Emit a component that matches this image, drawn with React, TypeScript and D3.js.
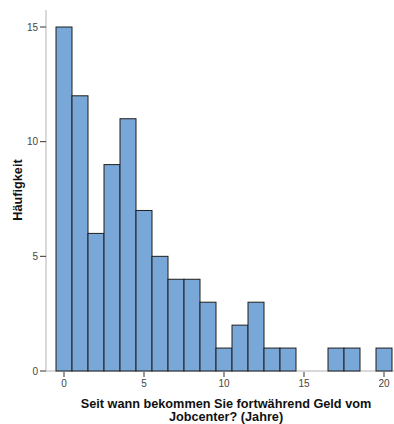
import React from "react";
import * as d3 from "d3";

const years = [0, 1, 2, 3, 4, 5, 6, 7, 8, 9, 10, 11, 12, 13, 14, 15, 16, 17, 18, 19, 20];
const counts = [15, 12, 6, 9, 11, 7, 5, 4, 4, 3, 1, 2, 3, 1, 1, 0, 0, 1, 1, 0, 1];
const xTicks = [0, 5, 10, 15, 20];
const yTicks = [0, 5, 10, 15];
const yTitle = "Häufigkeit";
const xTitleLines = ["Seit wann bekommen Sie fortwährend Geld vom", "Jobcenter? (Jahre)"];

export default function App() {
  const W = 394, H = 424;
  const x = d3.scaleLinear().domain([0, 20]).range([64, 384]);
  const y = d3.scaleLinear().domain([0, 15]).range([371, 27]);
  const axisLeft = 46;
  const font = "'Liberation Sans', Arial, sans-serif";
  return (
    <svg width={W} height={H} style={{ position: "absolute", left: 0, top: 0, background: "#fff" }}>
      <line x1={axisLeft} x2={axisLeft} y1={10} y2={371} stroke="#d9d9d9" strokeWidth={2} />
      <line x1={axisLeft} x2={W} y1={371} y2={371} stroke="#d9d9d9" strokeWidth={2} />
      {years.map((yr, i) =>
        counts[i] > 0 ? (
          <rect
            key={yr}
            x={x(yr - 0.5)}
            y={y(counts[i])}
            width={x(yr + 0.5) - x(yr - 0.5)}
            height={y(0) - y(counts[i])}
            fill="#79a7d7"
            stroke="#1e1e1e"
            strokeWidth={1}
          />
        ) : null
      )}
      {yTicks.map((t) => (
        <g key={t}>
          <line x1={40} x2={46} y1={y(t)} y2={y(t)} stroke="#333" strokeWidth={1} />
          <text x={38} y={y(t) + 3.5} textAnchor="end" fontFamily={font} fontSize={10} fill="#444">
            {t}
          </text>
        </g>
      ))}
      {xTicks.map((t) => (
        <g key={t}>
          <line x1={x(t)} x2={x(t)} y1={372} y2={377} stroke="#333" strokeWidth={1} />
          <text x={x(t)} y={387} textAnchor="middle" fontFamily={font} fontSize={10} fill="#444">
            {t}
          </text>
        </g>
      ))}
      <text
        transform={`translate(22,190) rotate(-90)`}
        textAnchor="middle"
        fontFamily={font}
        fontSize={12.7}
        fontWeight="bold"
        fill="#111"
      >
        {yTitle}
      </text>
      {xTitleLines.map((l, i) => (
        <text key={i} x={226} y={408 + i * 12.5} textAnchor="middle" fontFamily={font} fontSize={12.7} fontWeight="bold" fill="#111">
          {l}
        </text>
      ))}
    </svg>
  );
}
